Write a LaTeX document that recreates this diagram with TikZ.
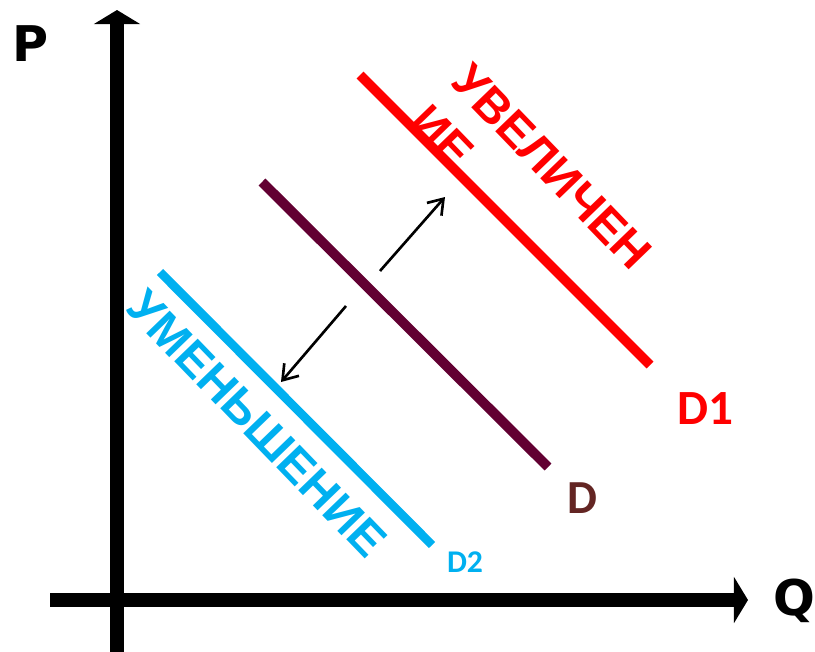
\documentclass[tikz,border=0pt]{standalone}
\usepackage{fontspec}
\setmainfont{Liberation Sans}
\newfontfamily\labelfont{Carlito}
\newfontfamily\axisfont{DejaVu Sans}
\usetikzlibrary{
    positioning,
    arrows.meta
}

\definecolor{upred}{RGB}{255,0,0}
\definecolor{basemaroon}{RGB}{98,0,50}
\definecolor{basebrown}{RGB}{99,37,35}
\definecolor{downblue}{RGB}{0,176,240}

\begin{document}
\begin{tikzpicture}[
    x=0.02cm, y=-0.02cm,
    axis/.style={line width=8pt, -{Triangle[length=8pt, width=26pt]}},
    curve/.style={line width=5.6pt},
    shift arrow/.style={line width=1.5pt, -{Straight Barb[length=8pt, width=11pt]}},
    axislabel/.style={font=\axisfont\bfseries\fontsize{28}{30}\selectfont, inner sep=0pt},
    curvelabel/.style={font=\labelfont\bfseries, inner sep=0pt},
    slanted/.style={font=\bfseries\fontsize{27}{33}\selectfont, rotate=-46, align=left, inner sep=0pt}
]

% Set bounding box to keep the margins of the picture
\useasboundingbox (0,0) rectangle (815,652);

% ================= AXES =================
\coordinate (origin) at (117,600);
\coordinate (ptop) at (117,10);
\coordinate (pbottom) at (117,652);
\coordinate (qleft) at (50,600);
\coordinate (qright) at (748,600);

\draw[axis] (pbottom) -- (ptop);
\draw[axis] (qleft) -- (qright);

\node[axislabel] (plabel) at (31,44) {P};
\node[axislabel] (qlabel) at (794,601) {Q};

% ================= DEMAND CURVES =================
\coordinate (d1start) at (360,75);
\coordinate (d1end) at (650,365);
\coordinate (dstart) at (262,182);
\coordinate (dend) at (548,467);
\coordinate (d2start) at (160,272);
\coordinate (d2end) at (432,545);

\draw[curve, upred] (d1start) -- (d1end);
\draw[curve, basemaroon] (dstart) -- (dend);
\draw[curve, downblue, line width=5pt] (d2start) -- (d2end);

\node[curvelabel, upred, font=\labelfont\bfseries\fontsize{28}{30}\selectfont] (lblD1) at (705,409) {D1};
\node[curvelabel, basebrown, font=\labelfont\bfseries\fontsize{27}{30}\selectfont] (lblD) at (582,498) {D};
\node[curvelabel, downblue, font=\labelfont\bfseries\fontsize{18}{20}\selectfont] (lblD2) at (465,562) {D2};

% ================= SHIFTS =================
\coordinate (upfrom) at (380,271);
\coordinate (upto) at (445,197);
\coordinate (downfrom) at (346,306);
\coordinate (downto) at (281,382);

\draw[shift arrow] (upfrom) -- (upto);
\draw[shift arrow] (downfrom) -- (downto);

\node[slanted, upred] (uptext) at (531,187) {УВЕЛИЧЕН\\ИЕ};
\node[slanted, downblue] (downtext) at (257,424) {УМЕНЬШЕНИЕ};

\end{tikzpicture}
\end{document}
